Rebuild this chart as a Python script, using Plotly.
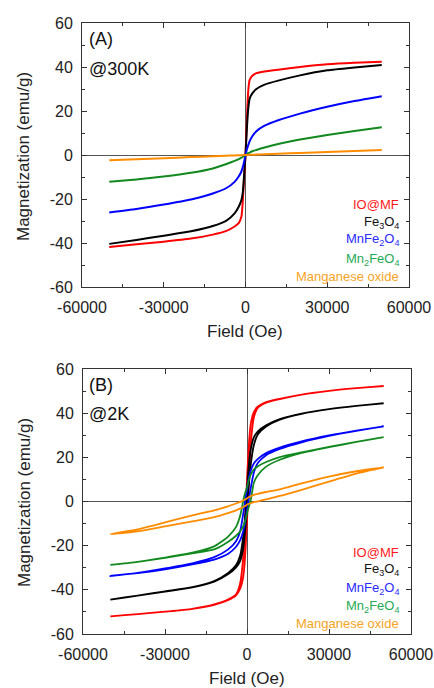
import plotly.graph_objects as go

# ---------------- data ----------------
H = [-50000, -40000, -30000, -20000, -12000, -7000, -4000, -2500, -1500, -1000, -500, 0,
     500, 1000, 1500, 2500, 4000, 7000, 12000, 20000, 30000, 40000, 50000]

series_names = ["IO@MF", "Fe3O4", "MnFe2O4", "Mn2FeO4", "Manganese oxide"]

# 300 K (no hysteresis)
red_300 = [-41.8, -40.6, -39.4, -38.0, -36.2, -34.5, -32.5, -31.0, -28.0, -21.0, -10.0, 0.0,
           16.0, 29.0, 34.0, 36.0, 37.2, 38.0, 38.8, 40.0, 41.2, 41.9, 42.4]
black_300 = [-40.4, -38.6, -36.7, -34.7, -32.3, -29.8, -26.5, -23.5, -20.5, -17.0, -9.0, 0.0,
             12.0, 21.0, 25.5, 28.0, 30.0, 32.0, 33.8, 36.2, 38.5, 39.8, 40.9]
blue_300 = [-26.1, -24.5, -22.5, -20.2, -17.5, -15.0, -12.2, -9.8, -7.5, -5.5, -3.0, 0.0,
            2.5, 4.5, 6.2, 8.5, 10.8, 13.3, 15.8, 18.8, 21.9, 24.5, 26.7]
green_300 = [-12.2, -11.1, -9.8, -8.1, -6.1, -4.1, -2.7, -1.9, -1.2, -0.8, -0.4, 0.0,
             0.4, 0.8, 1.1, 1.7, 2.3, 3.4, 5.0, 7.0, 9.1, 10.9, 12.6]
orange_300 = [-2.4, -1.9, -1.45, -0.95, -0.58, -0.34, -0.19, -0.12, -0.07, -0.05, -0.02, 0.0,
              0.02, 0.05, 0.07, 0.12, 0.19, 0.33, 0.56, 0.93, 1.4, 1.85, 2.3]

# 2 K: ascending (lower) and descending (upper) branches, both listed along H
red_2k_up = [-52.0, -51.0, -49.9, -48.6, -46.6, -44.4, -42.0, -37.0, -27.0, -17.0, -4.0, 10.0,
             22.0, 31.0, 36.0, 40.5, 43.0, 45.0, 46.5, 48.4, 50.1, 51.3, 52.3]
red_2k_low = [-52.0, -51.0, -49.9, -48.6, -46.8, -44.7, -42.5, -39.5, -35.0, -30.0, -21.0, -9.0,
              5.0, 18.0, 28.0, 38.0, 42.5, 44.8, 46.4, 48.4, 50.1, 51.3, 52.3]
black_2k_up = [-44.4, -42.6, -40.7, -38.8, -36.0, -32.5, -28.8, -24.5, -17.0, -11.0, -4.0, 5.0,
               14.0, 20.5, 24.5, 29.0, 31.8, 34.5, 37.3, 39.8, 41.8, 43.3, 44.5]
black_2k_low = [-44.4, -42.6, -40.8, -38.9, -36.3, -33.0, -29.8, -27.0, -22.0, -17.5, -11.0, -4.0,
                5.0, 12.0, 18.0, 25.5, 30.5, 34.0, 37.1, 39.7, 41.8, 43.3, 44.5]
blue_2k_up = [-33.7, -32.3, -30.3, -28.0, -25.2, -21.8, -18.0, -13.5, -6.5, -2.5, 1.5, 5.5,
              9.5, 12.5, 14.5, 17.2, 19.3, 21.9, 24.4, 27.2, 29.9, 32.1, 34.0]
blue_2k_low = [-33.7, -32.4, -30.7, -28.5, -26.3, -23.8, -20.5, -17.5, -14.0, -11.5, -8.0, -4.0,
               0.0, 3.5, 7.0, 13.0, 17.5, 21.0, 23.8, 26.8, 29.7, 32.0, 34.0]
green_2k_up = [-28.7, -27.3, -25.4, -23.2, -20.3, -16.0, -11.5, -6.5, -0.5, 2.5, 4.5, 6.5,
               9.0, 11.0, 12.5, 14.5, 16.0, 17.9, 20.1, 22.2, 24.7, 27.0, 29.2]
green_2k_low = [-28.7, -27.3, -25.5, -23.5, -21.7, -18.3, -15.5, -13.5, -11.5, -10.0, -8.0, -5.5,
                -3.0, -1.0, 1.5, 8.5, 12.0, 15.8, 18.9, 22.0, 24.6, 27.0, 29.2]
orange_2k_up = [-14.8, -12.6, -9.5, -6.3, -4.0, -2.2, -0.9, -0.2, 0.4, 0.7, 1.0, 1.4,
                1.8, 2.2, 2.5, 3.0, 3.5, 4.3, 5.5, 8.2, 11.3, 13.7, 15.4]
orange_2k_low = [-14.8, -13.5, -11.3, -9.0, -7.1, -5.3, -4.0, -3.1, -2.6, -2.3, -1.9, -1.4,
                 -1.1, -0.9, -0.7, -0.3, 0.1, 1.0, 2.5, 5.3, 9.0, 12.6, 15.4]

x_ticks = [-60000, -30000, 0, 30000, 60000]
x_ticklabels = ["-60000", "-30000", "0", "30000", "60000"]
y_ticks = [-60, -40, -20, 0, 20, 40, 60]
y_ticklabels = ["-60", "-40", "-20", "0", "20", "40", "60"]

legend_labels = ["IO@MF", "Fe<sub>3</sub>O<sub>4</sub>", "MnFe<sub>2</sub>O<sub>4</sub>",
                 "Mn<sub>2</sub>FeO<sub>4</sub>", "Manganese oxide"]

# ---------------- styles ----------------
line_colors = ["#ff0000", "#000000", "#0000ff", "#11891f", "#ff8c00"]
text_colors = ["#ff1a1a", "#111111", "#2a2aff", "#1faa55", "#f7a325"]
FONT = "Arial, Liberation Sans, sans-serif"
W, Hh = 434, 688

fig = go.Figure()

top_data = [red_300, black_300, blue_300, green_300, orange_300]
for name, ys, c in zip(series_names, top_data, line_colors):
    fig.add_trace(go.Scatter(x=H, y=ys, mode="lines", name=name,
                             line=dict(color=c, width=2, shape="spline", smoothing=0.6),
                             xaxis="x", yaxis="y", showlegend=False))

bot_up = [red_2k_up, black_2k_up, blue_2k_up, green_2k_up, orange_2k_up]
bot_low = [red_2k_low, black_2k_low, blue_2k_low, green_2k_low, orange_2k_low]
for name, up, low, c in zip(series_names, bot_up, bot_low, line_colors):
    xs = H + H[::-1]
    ys = low + up[::-1]
    fig.add_trace(go.Scatter(x=xs, y=ys, mode="lines", name=name,
                             line=dict(color=c, width=1.8, shape="spline", smoothing=0.6),
                             xaxis="x2", yaxis="y2", showlegend=False))


def px_x(p):
    return p / W


def px_y(p):
    return 1 - p / Hh


def xaxis(dom, anchor):
    return dict(domain=dom, anchor=anchor, range=[-60000, 60000], automargin=False,
                tickvals=x_ticks, ticktext=x_ticklabels,
                ticks="inside", ticklen=5, tickwidth=1, tickcolor="#333",
                minor=dict(tickvals=[-45000, -15000, 15000, 45000], ticks="inside",
                           ticklen=3, tickwidth=1, tickcolor="#333"),
                showline=True, linecolor="#333", linewidth=1, mirror="allticks",
                showgrid=False, zeroline=True, zerolinecolor="#555", zerolinewidth=1,
                tickfont=dict(family=FONT, size=16, color="#222"),
                ticklabelstandoff=6, fixedrange=True)


def yaxis(dom, anchor):
    return dict(domain=dom, anchor=anchor, range=[-60, 60], automargin=False,
                tickvals=y_ticks, ticktext=y_ticklabels,
                ticks="inside", ticklen=5, tickwidth=1, tickcolor="#333",
                minor=dict(tickvals=[-50, -30, -10, 10, 30, 50], ticks="inside",
                           ticklen=3, tickwidth=1, tickcolor="#333"),
                showline=True, linecolor="#333", linewidth=1, mirror="allticks",
                showgrid=False, zeroline=True, zerolinecolor="#555", zerolinewidth=1,
                tickfont=dict(family=FONT, size=16, color="#222"),
                ticklabelstandoff=5, fixedrange=True)


fig.update_layout(
    template="none",
    width=W, height=Hh,
    margin=dict(l=0, r=0, t=0, b=0, pad=0, autoexpand=False),
    paper_bgcolor="white", plot_bgcolor="white",
    xaxis=xaxis([px_x(82), px_x(409)], "y"),
    yaxis=yaxis([px_y(287), px_y(23)], "x"),
    xaxis2=xaxis([px_x(83), px_x(411)], "y2"),
    yaxis2=yaxis([px_y(634), px_y(369)], "x2"),
    font=dict(family=FONT),
    showlegend=False,
)

ann = []
# axis titles
for cx, cy in [(245, 331), (247, 678)]:
    ann.append(dict(text="Field (Oe)", x=px_x(cx), y=px_y(cy), xref="paper", yref="paper",
                    showarrow=False, xanchor="center", yanchor="middle",
                    font=dict(family=FONT, size=17, color="#222")))
for cx, cy in [(24, 157), (24, 503)]:
    ann.append(dict(text="Magnetization (emu/g)", x=px_x(cx), y=px_y(cy), xref="paper",
                    yref="paper", showarrow=False, textangle=-90, xanchor="center",
                    yanchor="middle", font=dict(family=FONT, size=17, color="#222")))
# panel labels
for txt, cy in [("(A)", 39), ("@300K", 69), ("(B)", 385), ("@2K", 414)]:
    ann.append(dict(text=txt, x=px_x(87), y=px_y(cy), xref="paper", yref="paper",
                    showarrow=False, xanchor="left", yanchor="middle",
                    font=dict(family=FONT, size=18, color="#111")))
# legend texts
top_leg_y = [205, 222, 240, 259, 276]
bot_leg_y = [552, 569, 588, 606, 623]
for lab, c, ty, by in zip(legend_labels, text_colors, top_leg_y, bot_leg_y):
    for yy in (ty, by):
        ann.append(dict(text=lab, x=px_x(401), y=px_y(yy), xref="paper", yref="paper",
                        showarrow=False, xanchor="right", yanchor="middle",
                        font=dict(family=FONT, size=13, color=c)))
fig.update_layout(annotations=ann)

fig.write_html("out.html",
               config={"displayModeBar": False, "staticPlot": True},
               post_script="document.body.style.margin='0';"
                           "document.body.style.overflow='hidden';")
